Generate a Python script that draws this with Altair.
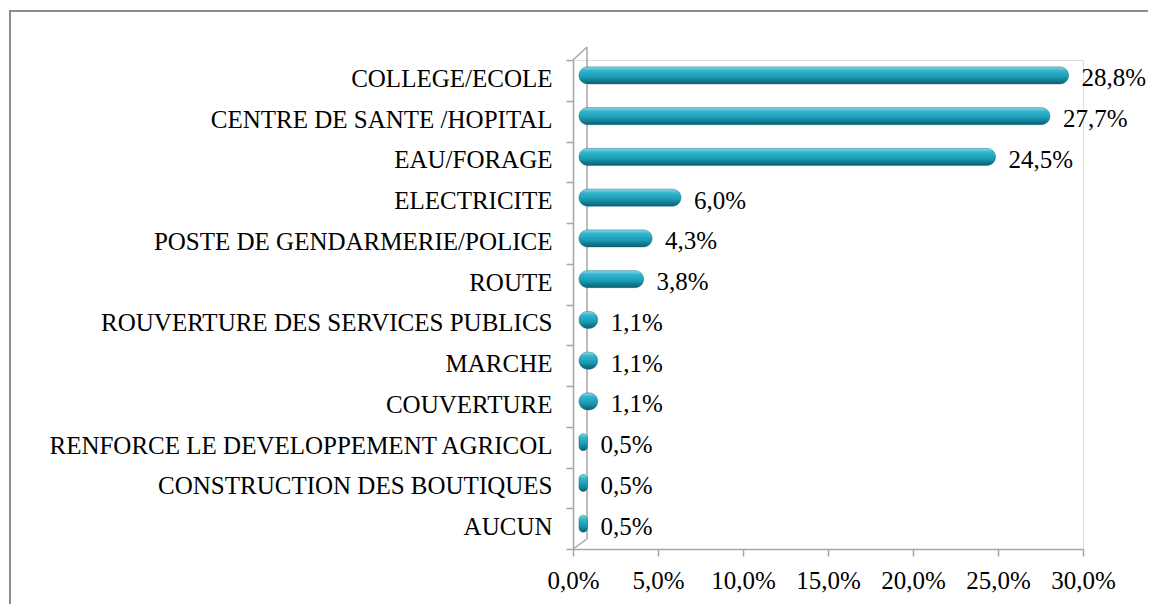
import altair as alt
import pandas as pd

categories = [
    "COLLEGE/ECOLE",
    "CENTRE DE SANTE /HOPITAL",
    "EAU/FORAGE",
    "ELECTRICITE",
    "POSTE DE GENDARMERIE/POLICE",
    "ROUTE",
    "ROUVERTURE DES SERVICES PUBLICS",
    "MARCHE",
    "COUVERTURE",
    "RENFORCE LE DEVELOPPEMENT AGRICOL",
    "CONSTRUCTION DES BOUTIQUES",
    "AUCUN",
]
values = [28.8, 27.7, 24.5, 6.0, 4.3, 3.8, 1.1, 1.1, 1.1, 0.5, 0.5, 0.5]
x_ticks = [0, 5, 10, 15, 20, 25, 30]

df = pd.DataFrame({
    "cat": categories,
    "v": values,
    "base": [0] * len(values),
    "lab": [f"{v:.1f}".replace(".", ",") + "%" for v in values],
})

FONT = "Liberation Serif"
FS = 25
W, H = 510, 489
AX = "#a6a6a6"

y_enc = alt.Y(
    "cat:N",
    sort=categories,
    scale=alt.Scale(paddingInner=0, paddingOuter=0),
    axis=alt.Axis(
        title=None, labelFont=FONT, labelFontSize=FS, labelColor="#000",
        labelLimit=0, labelPadding=14, labelOffset=-2,
        tickBand="extent", tickSize=7, tickColor=AX, tickWidth=1.5,
        domainColor=AX, domainWidth=1.5,
    ),
)
x_scale = alt.Scale(domain=[0, 30], nice=False, zero=False)
x_axis = alt.Axis(
    title=None, values=x_ticks, labelFont=FONT, labelFontSize=FS,
    labelColor="#000", labelPadding=12, tickSize=7, tickColor=AX,
    tickWidth=1.5, domainColor=AX, domainWidth=1.5, grid=False,
    labelOverlap=False, labelFlush=False,
    labelExpr="replace(format(datum.value, '.1f'), '.', ',') + '%'",
)

grad = alt.Gradient(
    gradient="linear", x1=0, y1=0, x2=0, y2=1,
    stops=[
        alt.GradientStop(offset=0, color="#8fd9e8"),
        alt.GradientStop(offset=0.22, color="#33b6cd"),
        alt.GradientStop(offset=0.6, color="#1a9bb4"),
        alt.GradientStop(offset=1, color="#0b5f70"),
    ],
)

base = alt.Chart(df)

bars = base.mark_bar(
    size=17, cornerRadius=8.5, xOffset=6, x2Offset=6, yOffset=-5, y2Offset=-5,
    color=grad, stroke="#0f6e80", strokeWidth=0.5,
).encode(
    y=y_enc,
    x=alt.X("v:Q", scale=x_scale, axis=x_axis),
    x2="base:Q",
)

labels = base.mark_text(
    align="left", baseline="middle", dx=19, dy=-2, font=FONT, fontSize=FS,
    color="#000",
).encode(
    y=alt.Y("cat:N", sort=categories),
    x=alt.X("v:Q", scale=x_scale),
    text="lab:N",
)

frame_df = pd.DataFrame({"k": [0]})
frame = alt.Chart(frame_df).mark_rect(
    fill=None, stroke="#8c8c8c", strokeWidth=2
).encode(
    x=alt.value(-563), x2=alt.value(620), y=alt.value(-49), y2=alt.value(600)
)
back = alt.Chart(frame_df).mark_rule(color=AX, strokeWidth=1.5).encode(
    x=alt.value(14), x2=alt.value(14), y=alt.value(-13), y2=alt.value(479)
)
diag_top = alt.Chart(frame_df).mark_rule(color=AX, strokeWidth=1.5).encode(
    x=alt.value(0), x2=alt.value(14), y=alt.value(0), y2=alt.value(-13)
)
diag_bot = alt.Chart(frame_df).mark_rule(color=AX, strokeWidth=1.5).encode(
    x=alt.value(0), x2=alt.value(14), y=alt.value(H), y2=alt.value(479)
)

chart = alt.layer(frame, back, diag_top, diag_bot, bars, labels).properties(
    width=W, height=H,
    autosize=alt.AutoSizeParams(type="none"),
    padding={"left": 565, "top": 52, "right": 65, "bottom": 55},
).configure_view(stroke=None).configure(background="white")

chart.save("out.html", embed_options={"renderer": "svg", "actions": False})
